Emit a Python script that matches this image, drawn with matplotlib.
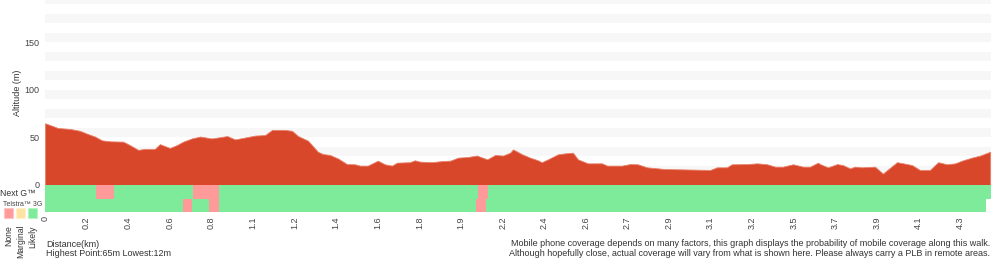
# Walk elevation profile with mobile coverage strips underneath
import matplotlib
matplotlib.use("Agg")
import matplotlib.pyplot as plt
from matplotlib.patches import Rectangle

plt.rcParams['font.family'] = ['Liberation Sans', 'DejaVu Sans']

# sample index along the walk (x axis is by sample, labelled with distance)
sample_pos = [0, 1.9, 3.1, 6.0, 8.4, 10.1, 12.0, 13.7, 15.6, 18.8, 20.4, 22.4, 24.0, 26.4,
              27.6, 30.0, 31.7, 33.2, 35.3, 37.3, 40.1, 43.8, 45.7, 48.1, 50.5, 52.9, 54.6,
              57.7, 59.4, 60.8, 63.2, 65.6, 66.8, 68.5, 70.4, 72.6, 74.5, 75.7, 77.6, 80.0,
              81.7, 83.4, 84.6, 87.7, 88.9, 90.1, 93.0, 95.0, 97.4, 99.3, 101.7, 103.8,
              106.3, 108.2, 110.1, 111.8, 112.5, 114.7, 116.6, 118.5, 119.4, 120.9, 123.3,
              125.0, 126.9, 128.1, 130.5, 133.9, 135.1, 138.7, 140.6, 142.5, 144.7, 149.0,
              152.6, 159.9, 161.5, 163.9, 165.1, 168.8, 171.2, 173.6, 175.5, 177.4, 179.8,
              182.2, 183.9, 185.8, 186.3, 188.2, 190.4, 191.8, 193.5, 194.7, 196.4, 199.5,
              201.4, 204.8, 206.3, 208.4, 210.3, 212.7, 214.7, 216.8, 218.8, 220.4, 222.8,
              224.8, 227.2]
altitude = [65, 62, 60, 59, 57, 54, 51, 47, 46, 45.6, 42, 37, 38, 38,
            43, 39, 42, 45.6, 49, 51, 49, 51.5, 48, 50, 52, 52.6, 58,
            58, 57, 51.6, 46.7, 35, 32.6, 31.6, 28, 22, 21.8, 20.4, 20.4, 25.6,
            21.8, 20.4, 23.5, 24, 26, 24.6, 24, 25, 25.6, 28.8, 29.5, 31,
            27, 31.6, 31, 34, 37.5, 32.3, 28.8, 26, 24, 27, 32.3,
            33.3, 34, 27, 22.8, 22.8, 20.4, 20.4, 22, 21.8, 18.6, 16.8,
            16.5, 15.8, 18.6, 18.6, 21.8, 22, 22.8, 21.8, 19.3, 19.3, 21.8,
            19.3, 19.3, 23.5, 22, 18.6, 22, 21, 17.5, 19.3, 18.6, 19.3,
            12, 24, 22.8, 21, 15.8, 15.8, 24, 21.8, 22.8, 25.6, 28.8,
            31, 35]

tick_labels = ["0", "0.2", "0.4", "0.6", "0.8", "1.1", "1.2", "1.4", "1.6", "1.8", "1.9",
               "2.2", "2.4", "2.6", "2.7", "2.9", "3.1", "3.2", "3.5", "3.7", "3.9", "4.1", "4.3"]

# coverage segments: (start sample, end sample, status)
next_g = [(0, 12.3, "Likely"), (12.3, 16.6, "None"), (16.6, 35.6, "Likely"),
          (35.6, 41.8, "None"), (41.8, 104.1, "Likely"), (104.1, 106.5, "None"),
          (106.5, 227.4, "Likely")]
telstra_3g = [(0, 33.2, "Likely"), (33.2, 35.3, "None"), (35.3, 39.4, "Likely"),
              (39.4, 41.8, "None"), (41.8, 103.6, "Likely"), (103.6, 106.0, "None"),
              (106.0, 226.2, "Likely")]

status_colors = {"None": "#ff9a9a", "Marginal": "#ffe3a3", "Likely": "#7eeb9b"}
status_edges = {"None": "#ffc4c4", "Marginal": "#fff0cc", "Likely": "#b5f5c4"}

X_MAX = 227.4
Y_MAX = 194.7

fig = plt.figure(figsize=(10, 2.6), dpi=100)

# altitude profile
ax = fig.add_axes([0.045, 0.2885, 0.946, 0.7115])
for lo in range(10, 200, 20):
    ax.axhspan(lo, lo + 10, color="#f7f7f7", lw=0, zorder=0)
ax.fill_between(sample_pos, altitude, 0, color="#d9472b", lw=0.6, edgecolor="#e8826b", zorder=2)
ax.set_xlim(0, X_MAX)
ax.set_ylim(0, Y_MAX)
ax.set_yticks([0, 50, 100, 150])
ax.set_xticks([])
ax.tick_params(axis='y', length=0, pad=4, labelsize=6.5, labelcolor="#444444")
for s in ax.spines.values():
    s.set_visible(False)
ax.set_ylabel("Altitude (m)", fontsize=6.5, color="#333333", labelpad=2)

# coverage strips
cax = fig.add_axes([0.045, 0.1846, 0.946, 0.1038])
for row, segs in [(1, next_g), (0, telstra_3g)]:
    for start, end, status in segs:
        cax.broken_barh([(start, end - start)], (row, 1), color=status_colors[status], lw=0)
cax.set_xlim(0, X_MAX)
cax.set_ylim(0, 2)
cax.set_yticks([])
cax.set_xticks(range(0, 10 * len(tick_labels), 10))
cax.set_xticklabels(tick_labels, rotation=90, fontsize=6.5, color="#444444")
cax.tick_params(axis='x', length=0, pad=3)
for s in cax.spines.values():
    s.set_visible(False)

# left-hand labels and legend
fig.text(0.0, 1 - 193 / 260, "Next G™", fontsize=6.2, color="#333333", va="center", ha="left")
fig.text(0.003, 1 - 205 / 260, "Telstra™ 3G", fontsize=5, color="#444444", va="center", ha="left")
for i, status in enumerate(["None", "Marginal", "Likely"]):
    x0 = 4 + i * 12
    fig.patches.append(Rectangle((x0 / 1000, 1 - 218 / 260), 9 / 1000, 10 / 260,
                                 transform=fig.transFigure, facecolor=status_colors[status],
                                 edgecolor=status_edges[status], lw=0.8))
    fig.text((x0 + 4.5) / 1000, 1 - 225 / 260, status, rotation=90, fontsize=6.2,
             color="#333333", ha="center", va="top")

# footer text
fig.text(0.046, 1 - 244.5 / 260, "Distance(km)", fontsize=6.5, color="#333333", va="center")
fig.text(0.046, 1 - 253.5 / 260, "Highest Point:65m Lowest:12m", fontsize=6.5,
         color="#333333", va="center")
fig.text(0.990, 1 - 243.5 / 260,
         "Mobile phone coverage depends on many factors, this graph displays the probability of mobile coverage along this walk.",
         fontsize=6.5, color="#333333", va="center", ha="right")
fig.text(0.990, 1 - 253.5 / 260,
         "Although hopefully close, actual coverage will vary from what is shown here. Please always carry a PLB in remote areas.",
         fontsize=6.5, color="#333333", va="center", ha="right")

fig.savefig("out.png", dpi=100)
